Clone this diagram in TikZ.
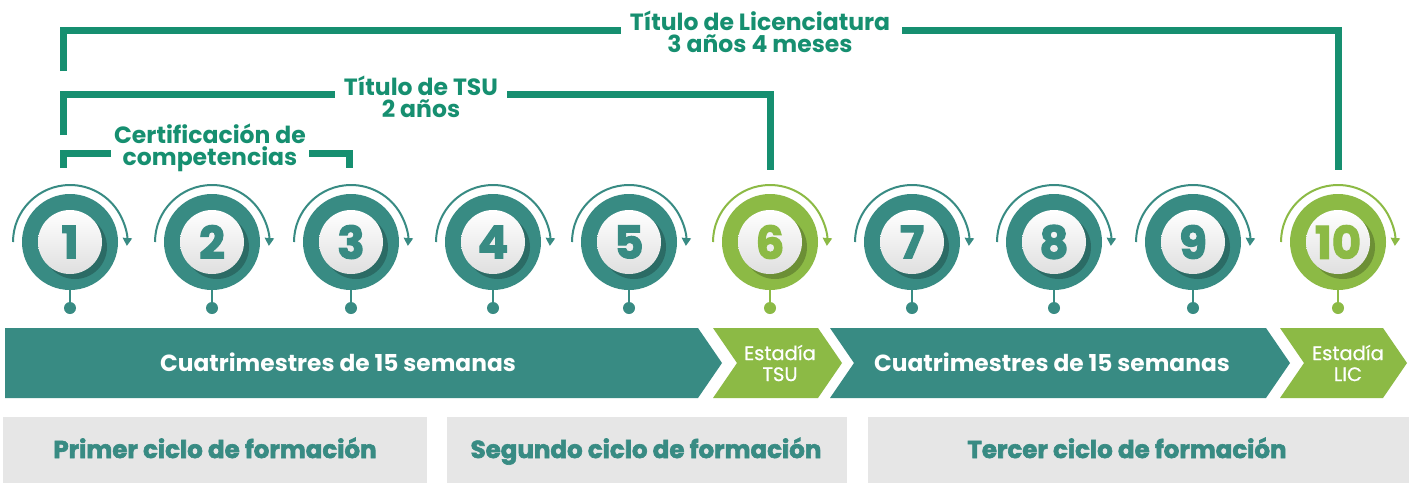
\documentclass[tikz,border=0pt]{standalone}
\usepackage{fontspec}
\setmainfont{Poppins}
\newfontfamily\heavyfont{Poppins}[BoldFeatures={FakeBold=2.5}]
\newfontfamily\medfont{Poppins}[FakeBold=0.8]
\usetikzlibrary{arrows.meta,calc}
\definecolor{brg}{HTML}{168F70}
\definecolor{tealc}{HTML}{388B83}
\definecolor{limec}{HTML}{8CBA45}
\definecolor{boxg}{HTML}{E6E6E6}
\tikzset{
  bracket/.style={draw=brg, line width=7pt, line join=miter, line cap=butt},
  lbl/.style={text=brg, font=\bfseries\fontsize{23.5}{22}\selectfont, align=center, inner sep=0pt},
  barlbl/.style={text=white, font=\bfseries\fontsize{23.3}{24}\selectfont, inner sep=0pt, anchor=base},
  estlbl/.style={text=white, font=\medfont\fontsize{19.5}{21}\selectfont, align=center, inner sep=0pt},
  cyclbl/.style={text=tealc, font=\heavyfont\bfseries\fontsize{24.5}{24}\selectfont, inner sep=0pt, anchor=base},
}
\begin{document}
\begin{tikzpicture}[x=1pt,y=-1pt]
\useasboundingbox[fill=white] (0,0) rectangle (1409,483);

% circles
\foreach \i/\x/\c in {1/70/tealc,2/212/tealc,3/351/tealc,4/493/tealc,5/629/tealc,6/770/limec,7/912/tealc,8/1054/tealc,9/1193/tealc,10/1338/limec}{
  \node[circle, fill=\c, minimum size=96pt, inner sep=0pt] (c\i) at (\x,242) {};
  \fill[\c!55!black, opacity=.5] ([shift={(5pt,-5pt)}]c\i.center) circle[radius=32pt];
  \shade[top color=white, bottom color=gray!25] (c\i.center) circle[radius=32pt];
  \node[font=\heavyfont\bfseries\fontsize{45}{45}\selectfont, text=\c, inner sep=0pt] (n\i) at (c\i) {\i};
  \draw[\c, line width=2pt, -{Triangle[length=8pt,width=9pt]}] ([shift={(180:57pt)}]c\i.center) arc[start angle=180, end angle=-4, radius=57pt];
  \node[circle, fill=\c, minimum size=12pt, inner sep=0pt] (d\i) at (\x,308) {};
  \draw[\c, line width=2pt] (c\i.south) -- (d\i);
}

% chevrons
\fill[tealc] (5,328) -- (698,328) -- (722,363) -- (698,398) -- (5,398) -- cycle;
\fill[limec] (713,328) -- (818,328) -- (842,363) -- (818,398) -- (713,398) -- (737,363) -- cycle;
\fill[tealc] (830,328) -- (1266,328) -- (1290,363) -- (1266,398) -- (830,398) -- (854,363) -- cycle;
\fill[limec] (1280,328) -- (1383,328) -- (1407,363) -- (1383,398) -- (1280,398) -- (1304,363) -- cycle;
\node[barlbl] (b1) at (338,371) {Cuatrimestres de 15 semanas};
\node[estlbl] (e1) at (780,363) {Estadía\\TSU};
\node[barlbl] (b2) at (1052,371) {Cuatrimestres de 15 semanas};
\node[estlbl] (e2) at (1348,363) {Estadía\\LIC};

% cycle boxes
\fill[boxg] (3,417) rectangle (427,483);
\fill[boxg] (447,417) rectangle (847,483);
\fill[boxg] (868,417) rectangle (1409,483);
\node[cyclbl] (y1) at (215,458) {Primer ciclo de formación};
\node[cyclbl] (y2) at (646,458) {Segundo ciclo de formación};
\node[cyclbl] (y3) at (1127,458) {Tercer ciclo de formación};

% brackets
\node[lbl] (lic) at (760,32) {Título de Licenciatura\\3 años 4 meses};
\coordinate (licL) at (63.5,71);
\draw[bracket] (licL) |- ([xshift=-9pt,yshift=2pt]lic.west);
\draw[bracket] ([xshift=12pt,yshift=2pt]lic.east) -| ([yshift=24pt]c10.north);

\node[lbl] (tsu) at (421,97) {Título de TSU\\2 años};
\coordinate (tsuL) at (63.5,135);
\draw[bracket] (tsuL) |- ([xshift=-9pt,yshift=3pt]tsu.west);
\draw[bracket] ([xshift=9pt,yshift=3pt]tsu.east) -| ([yshift=24pt]c6.north);

\node[lbl] (cert) at (210,148) {Certificación de\\competencias};
\coordinate (certL) at (63.5,168);
\coordinate (certR) at (349,168);
\draw[bracket] (certL) |- ([xshift=-3pt,yshift=-5pt]cert.west);
\draw[bracket] ([xshift=3pt,yshift=-5pt]cert.east) -| (certR);
\end{tikzpicture}
\end{document}
